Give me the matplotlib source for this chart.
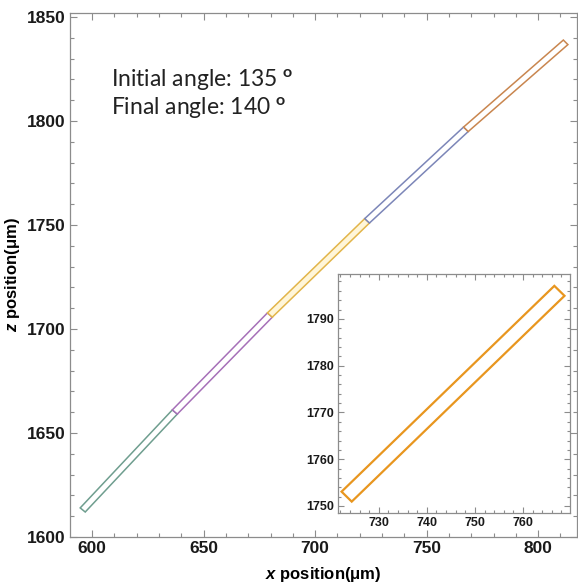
import numpy as np
import matplotlib
matplotlib.use("Agg")
import matplotlib.pyplot as plt
from matplotlib.patches import Polygon
from matplotlib.ticker import MultipleLocator

plt.rcParams["font.family"] = ["Liberation Sans", "DejaVu Sans"]
plt.rcParams["mathtext.fontset"] = "custom"
plt.rcParams["mathtext.rm"] = "Lato"
plt.rcParams["mathtext.bf"] = "Lato:bold"
plt.rcParams["mathtext.bfit"] = "Liberation Sans:italic:bold"

# ── Fibre centreline: segment joints in (x, z), µm ───────────────────
joint_x = [595.8, 637.1, 679.7, 723.3, 767.6, 812.3]
joint_z = [1613.0, 1660.1, 1706.7, 1752.0, 1796.0, 1837.8]
seg_edge = ["#6f9e8f", "#a670b8", "#e2b54a", "#7c86b8", "#c9864f"]
seg_fill = ["white", "white", "#fff6d9", "white", "white"]
tube_width = 3.0

# inset zooms on one segment
inset_seg = 3
inset_color = "#e8961f"

init_angle = 135
final_angle = 140


def tube(x0, z0, x1, z1, w):
    """Corners of a rectangle of width w along the segment (x0,z0)-(x1,z1)."""
    d = np.array([x1 - x0, z1 - z0])
    d = d / np.hypot(*d)
    n = np.array([-d[1], d[0]]) * w / 2
    p0 = np.array([x0, z0])
    p1 = np.array([x1, z1])
    return np.array([p0 + n, p1 + n, p1 - n, p0 - n])


def frame_style(ax, major, minor, size, tick_len):
    for s in ax.spines.values():
        s.set_color("#8c8c8c")
        s.set_linewidth(0.9)
    ax.xaxis.set_major_locator(MultipleLocator(major))
    ax.yaxis.set_major_locator(MultipleLocator(major))
    ax.xaxis.set_minor_locator(MultipleLocator(minor))
    ax.yaxis.set_minor_locator(MultipleLocator(minor))
    ax.tick_params(which="both", direction="in", top=True, right=True,
                   color="#8c8c8c", width=0.8, labelsize=size, pad=3,
                   labelcolor="#1a1a1a")
    ax.tick_params(which="major", length=tick_len)
    ax.tick_params(which="minor", length=tick_len * 0.55)
    for lab in ax.get_xticklabels() + ax.get_yticklabels():
        lab.set_fontweight("bold")


fig = plt.figure(figsize=(5.78, 5.84), dpi=100)

# ── Main panel ───────────────────────────────────────────────────────
ax = fig.add_axes([70 / 578, 47 / 584, 507 / 578, 524 / 584])
for i in range(len(seg_edge)):
    corners = tube(joint_x[i], joint_z[i], joint_x[i + 1], joint_z[i + 1], tube_width)
    ax.add_patch(Polygon(corners, closed=True, facecolor=seg_fill[i],
                         edgecolor=seg_edge[i], linewidth=1.1))
ax.set_xlim(590.1, 817.4)
ax.set_ylim(1600, 1851.9)
frame_style(ax, 50, 10, 12.5, 5)
ax.set_xlabel(r"$\mathbfit{x}$ position(μm)", fontsize=12, fontweight="bold",
              labelpad=6)
ax.set_ylabel(r"$\mathbfit{z}$ position(μm)", fontsize=12, fontweight="bold",
              labelpad=4)

for label, angle, y_px in [("Initial angle", init_angle, 87),
                           ("Final angle", final_angle, 115)]:
    ax.text(111 / 578, 1 - y_px / 584, rf"{label}: {angle} $^{{\mathbf{{o}}}}$",
            transform=fig.transFigure, fontsize=16.5, family="Lato",
            color="#222222", va="baseline")

# ── Inset ────────────────────────────────────────────────────────────
axin = fig.add_axes([338 / 578, 71 / 584, 232 / 578, 239 / 584])
k = inset_seg
corners = tube(joint_x[k], joint_z[k], joint_x[k + 1], joint_z[k + 1], tube_width)
axin.add_patch(Polygon(corners, closed=True, facecolor="white",
                       edgecolor=inset_color, linewidth=1.6))
axin.set_xlim(721.5, 769.8)
axin.set_ylim(1748.5, 1799.6)
frame_style(axin, 10, 2, 9, 4)

fig.savefig("out.png", dpi=100)
